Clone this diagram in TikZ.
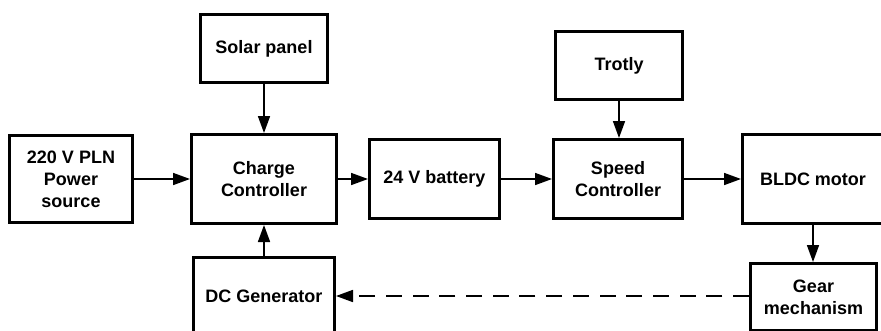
\documentclass[tikz,border=0pt]{standalone}
\usepackage{fontspec}
\setmainfont{Liberation Sans}
\usetikzlibrary{arrows.meta}
\tikzset{
  blk/.style={draw=black, line width=3pt, rectangle, align=center, inner sep=0pt,
    font=\fontsize{18}{22}\selectfont\bfseries},
  arr/.style={line width=1.7pt, -{Triangle[length=17pt,width=12pt]}},
  darr/.style={arr, dash pattern=on 16pt off 10.7pt}
}
\begin{document}
\begin{tikzpicture}[x=1pt,y=-1pt]
\useasboundingbox (0,0) rectangle (881,330);
\clip (0,0) rectangle (881,330);
\fill[white] (0,0) rectangle (881,330);
\node[blk, minimum width=127pt, minimum height=68pt] (solar) at (264,48.5) {Solar panel};
\node[blk, minimum width=123pt, minimum height=87pt] (pln) at (71,179) {220 V PLN\\Power\\source};
\node[blk, minimum width=145pt, minimum height=89pt] (cc) at (264,179) {Charge\\Controller};
\node[blk, minimum width=130pt, minimum height=79pt] (bat) at (434.5,179) {24 V battery};
\node[blk, minimum width=129pt, minimum height=79pt] (sc) at (618,179) {Speed\\Controller};
\node[blk, minimum width=127pt, minimum height=68pt] (trot) at (619,65.5) {Trotly};
\node[blk, minimum width=141pt, minimum height=89pt] (bldc) at (813,179) {BLDC motor};
\node[blk, minimum width=141pt, minimum height=78pt] (dcg) at (264,296) {DC Generator};
\node[blk, minimum width=126pt, minimum height=67pt] (gear) at (813.5,297) {Gear\\mechanism};
\draw[arr] (pln.east) -- (cc.west);
\draw[arr] (cc.east) -- (bat.west);
\draw[arr] (bat.east) -- (sc.west);
\draw[arr] (sc.east) -- (bldc.west);
\draw[arr] (solar.south) -- (cc.north);
\draw[arr] (trot.south) -- (trot.south |- sc.north);
\draw[arr] (bldc.south) -- (bldc.south |- gear.north);
\draw[arr] (dcg.north) -- (cc.south);
\draw[darr] (gear.west |- dcg.east) -- (dcg.east);
\end{tikzpicture}
\end{document}
